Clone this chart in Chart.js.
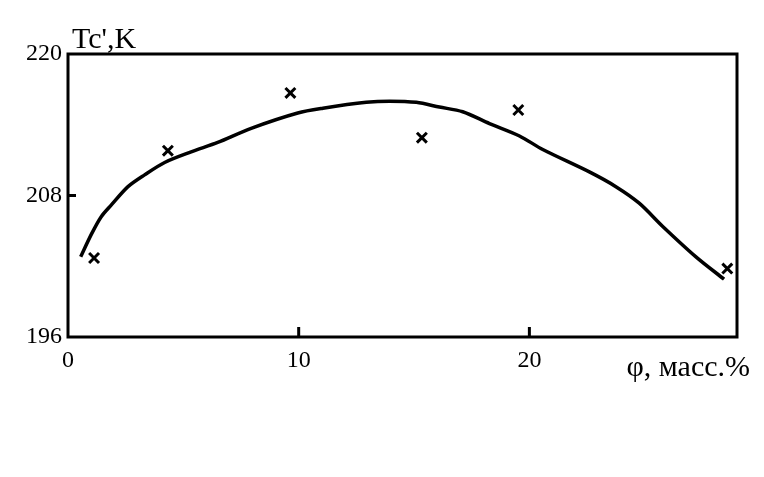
<!DOCTYPE html>
<html>
<head>
<meta charset="utf-8">
<script src="https://cdn.jsdelivr.net/npm/chart.js@4.4.1/dist/chart.umd.min.js"></script>
<style>
html,body{margin:0;padding:0;background:#fff;}
#wrap{width:764px;height:477px;position:relative;}
</style>
</head>
<body>
<div id="wrap"><canvas id="c" width="764" height="477"></canvas></div>
<script>
// Smooth fitted curve (φ, масс.% vs Tc', K)
const curveX = [0.55, 1.01, 1.44, 1.88, 2.60, 3.32, 4.19, 5.34, 6.49, 7.94, 9.96, 11.05, 12.93, 13.94, 15.10, 16.10, 17.11, 18.27, 19.57, 20.58, 22.60, 23.75, 24.76, 25.77, 27.22, 28.44];
const curveY = [202.8, 204.7, 206.2, 207.2, 208.75, 209.75, 210.8, 211.7, 212.5, 213.7, 215.0, 215.4, 215.9, 216.0, 215.9, 215.5, 215.1, 214.1, 213.05, 211.9, 210.0, 208.75, 207.35, 205.4, 202.8, 200.9];
// Experimental points (x markers)
const pointsX = [1.13, 4.33, 9.64, 15.34, 19.52, 28.58];
const pointsY = [202.7, 211.8, 216.7, 212.9, 215.25, 201.8];
// Tick labels
const xTicks = [0, 10, 20];
const yTicks = [196, 208, 220];
const yTitle = "Tc',K";
const xTitle = "φ, масс.%";

const FONT = "'Liberation Serif', 'Times New Roman', serif";

const framePlugin = {
  id: 'frame',
  afterDraw(chart) {
    const {ctx, chartArea: a, scales} = chart;
    ctx.save();
    ctx.strokeStyle = '#000';
    ctx.lineWidth = 3;
    ctx.strokeRect(a.left, a.top, a.right - a.left, a.bottom - a.top);
    // inward ticks
    ctx.beginPath();
    xTicks.forEach(v => {
      if (v === scales.x.min) return;
      const px = scales.x.getPixelForValue(v);
      ctx.moveTo(px, a.bottom);
      ctx.lineTo(px, a.bottom - 10);
    });
    yTicks.forEach(v => {
      if (v === scales.y.min || v === scales.y.max) return;
      const py = scales.y.getPixelForValue(v);
      ctx.moveTo(a.left, py);
      ctx.lineTo(a.left + 8, py);
    });
    ctx.stroke();
    // axis titles
    ctx.fillStyle = '#000';
    ctx.font = '30px ' + FONT;
    ctx.textAlign = 'left';
    ctx.textBaseline = 'alphabetic';
    ctx.fillText(yTitle, a.left + 4, a.top - 6);
    ctx.textAlign = 'right';
    ctx.fillText(xTitle, 750, 376);
    ctx.restore();
  }
};

new Chart(document.getElementById('c'), {
  type: 'scatter',
  data: {
    datasets: [
      {
        label: 'curve',
        data: curveX.map((x, i) => ({x, y: curveY[i]})),
        showLine: true,
        borderColor: '#000',
        borderWidth: 3.5,
        pointRadius: 0,
        tension: 0.3,
        fill: false
      },
      {
        label: 'points',
        data: pointsX.map((x, i) => ({x, y: pointsY[i]})),
        showLine: false,
        pointStyle: 'crossRot',
        pointRadius: 7,
        borderColor: '#000',
        borderWidth: 3
      }
    ]
  },
  options: {
    responsive: false,
    animation: false,
    devicePixelRatio: 1,
    layout: {padding: {left: 0, top: 54, right: 27, bottom: 100}},
    plugins: {legend: {display: false}, tooltip: {enabled: false}, title: {display: false}},
    scales: {
      x: {
        type: 'linear', min: 0, max: 29,
        afterBuildTicks: s => { s.ticks = xTicks.map(v => ({value: v})); },
        afterFit: s => { s.height = 40; },
        grid: {display: false, drawTicks: false},
        border: {display: false},
        ticks: {color: '#000', font: {family: FONT, size: 24}, padding: 9, maxRotation: 0}
      },
      y: {
        type: 'linear', min: 196, max: 220,
        afterBuildTicks: s => { s.ticks = yTicks.map(v => ({value: v})); },
        afterFit: s => { s.width = 68; },
        grid: {display: false, drawTicks: false},
        border: {display: false},
        ticks: {color: '#000', font: {family: FONT, size: 24}, padding: 6}
      }
    }
  },
  plugins: [framePlugin]
});
</script>
</body>
</html>
